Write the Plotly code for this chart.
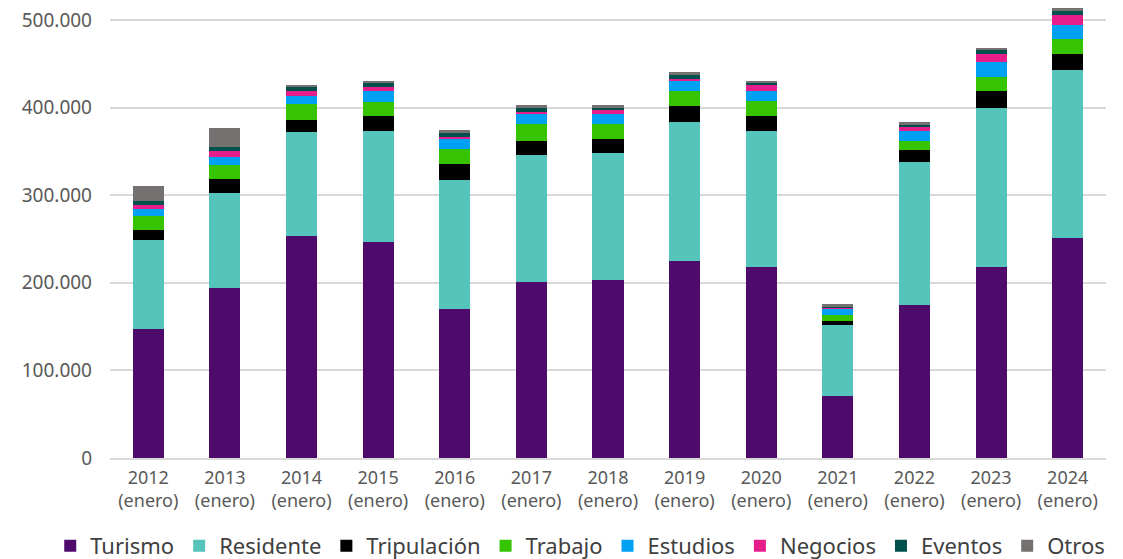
import plotly.graph_objects as go

years = ["2012", "2013", "2014", "2015", "2016", "2017", "2018", "2019", "2020", "2021", "2022", "2023", "2024"]
categories = [f"{y}<br>(enero)" for y in years]

turismo     = [147000, 194400, 253400, 246200, 170500, 201300, 203500, 224900, 217600, 71100, 175000, 217600, 250800]
residente   = [101500, 108500, 118400, 127400, 146500, 144200, 144300, 158300, 156000, 80400, 163300, 182300, 191800]
tripulacion = [11800, 16000, 14400, 16800, 19000, 16400, 16400, 18600, 17200, 4500, 13700, 18700, 19000]
trabajo     = [16300, 15200, 18300, 16400, 16700, 19100, 16800, 17100, 16400, 6900, 9900, 16800, 16700]
estudios    = [7600, 9100, 9100, 11800, 11800, 12000, 12000, 11500, 11700, 7200, 11700, 16300, 16000]
negocios    = [4600, 7300, 5300, 4600, 2300, 2300, 4600, 2300, 7200, 1900, 4600, 9900, 11800]
eventos     = [4900, 4500, 4600, 4800, 4600, 4200, 1900, 4600, 1900, 1500, 2300, 3800, 4200]
otros       = [16400, 21400, 2300, 2700, 2600, 3100, 3100, 3000, 2400, 1900, 2700, 3000, 3000]

series = [
    ("Turismo", turismo, "#4F0B6C"),
    ("Residente", residente, "#55C4BA"),
    ("Tripulación", tripulacion, "#000000"),
    ("Trabajo", trabajo, "#36C300"),
    ("Estudios", estudios, "#00A0F2"),
    ("Negocios", negocios, "#E61E8C"),
    ("Eventos", eventos, "#00504D"),
    ("Otros", otros, "#767171"),
]

FONT = "Noto Sans"

fig = go.Figure()
for name, vals, color in series:
    fig.add_trace(go.Bar(
        name=name, x=categories, y=vals,
        marker=dict(color=color, line=dict(width=0)),
    ))

fig.update_layout(
    barmode="stack",
    bargap=0.595,
    width=1115, height=551,
    margin=dict(l=102, r=17, t=0, b=101, autoexpand=False),
    paper_bgcolor="white",
    plot_bgcolor="white",
    separators=",.",
    font=dict(family=FONT, color="#595959"),
    showlegend=True,
    legend=dict(
        orientation="h",
        xref="paper", yref="paper",
        x=-0.06, xanchor="left",
        y=-0.1956, yanchor="middle",
        font=dict(family=FONT, size=22, color="#404040"),
        itemwidth=30,
        traceorder="normal",
        tracegroupgap=0,
    ),
    xaxis=dict(
        showgrid=False,
        showline=True, linecolor="#D9D9D9", linewidth=2,
        tickfont=dict(family=FONT, size=18, color="#595959"),
        ticks="",
        ticklabelstandoff=2,
    ),
    yaxis=dict(
        range=[0, 513699],
        tickvals=[0, 100000, 200000, 300000, 400000, 500000],
        tickformat=",.0f",
        showgrid=True, gridcolor="#D9D9D9", gridwidth=2,
        zeroline=False,
        showline=False,
        ticks="",
        ticklabelstandoff=17,
        ticklabeloverflow="allow",
        tickfont=dict(family=FONT, size=19, color="#595959"),
    ),
)

fig.write_html("out.html")
